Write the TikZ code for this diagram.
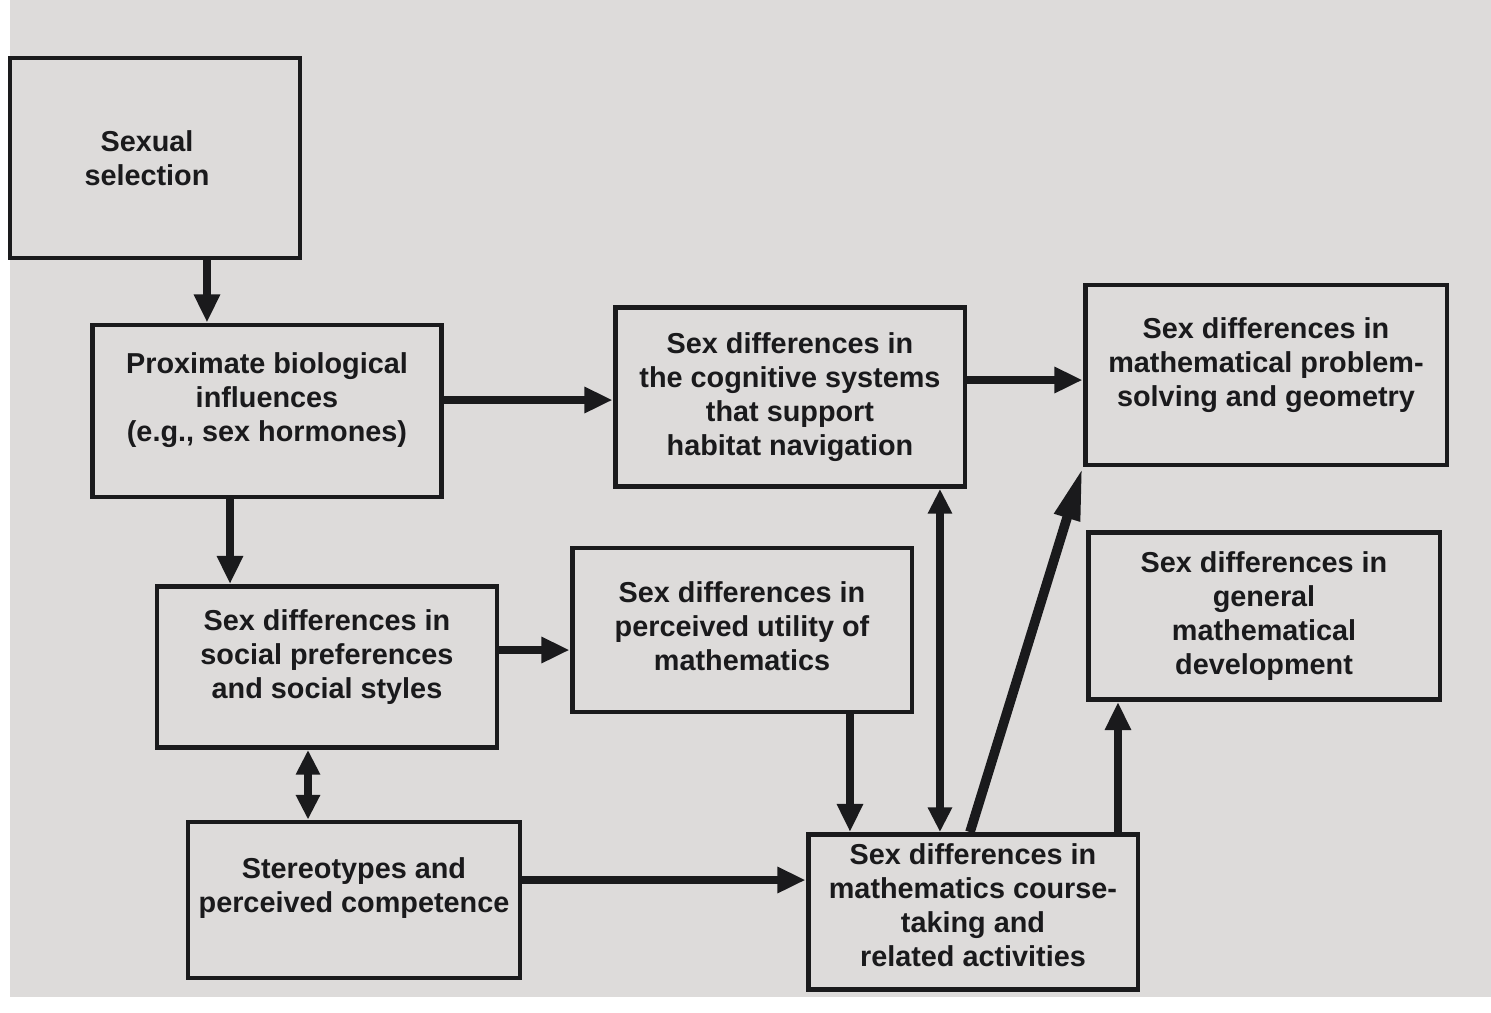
\documentclass[tikz,border=0pt]{standalone}
\usepackage{fontspec}
\setmainfont{Liberation Sans}
\usepackage{tikz}
\usetikzlibrary{arrows.meta,calc}

\definecolor{paper}{HTML}{DDDBDA}
\definecolor{ink}{HTML}{1A1A1C}

\begin{document}
\begin{tikzpicture}[x=0.02cm,y=-0.02cm,
        box/.style={draw=ink,line width=2.8pt,inner sep=0pt},
        txt/.style={align=center,inner sep=0pt,text=ink,
            font=\fontsize{16.4}{19.3}\selectfont\bfseries},
        flow/.style={draw=ink,line width=4.2pt,-{Triangle[length=16pt,width=14pt]}},
        twoway/.style={draw=ink,line width=4.2pt,{Triangle[length=14pt,width=13pt]}-{Triangle[length=14pt,width=13pt]}}]

        % paper
        \fill[white] (0,0) rectangle (1491,1012);
        \fill[paper] (10,0) rectangle (1491,997);
        \useasboundingbox (0,0) rectangle (1491,1012);

        % boxes
        \node[box, minimum width=5.8cm, minimum height=4.0cm] at (155,158) (ss) {};
        \node[box, minimum width=6.98cm, minimum height=3.44cm] at (267,411) (prox) {};
        \node[box, minimum width=7.0cm, minimum height=3.58cm] at (790,397) (cog) {};
        \node[box, minimum width=7.24cm, minimum height=3.6cm] at (1266,375) (prob) {};
        \node[box, minimum width=6.8cm, minimum height=3.22cm] at (327,667) (soc) {};
        \node[box, minimum width=6.8cm, minimum height=3.28cm] at (742,630) (util) {};
        \node[box, minimum width=7.04cm, minimum height=3.34cm] at (1264,616) (gen) {};
        \node[box, minimum width=6.64cm, minimum height=3.12cm] at (354,900) (ster) {};
        \node[box, minimum width=6.6cm, minimum height=3.1cm] at (973,912) (course) {};

        % texts
        \node[txt] at ([xshift=-0.16cm]ss.center) (sst) {Sexual\\selection};
        \node[txt] at ([yshift=0.22cm]prox.center) (proxt) {Proximate biological\\influences\\(e.g., sex hormones)};
        \node[txt] at (cog.center) (cogt) {Sex differences in\\the cognitive systems\\that support\\habitat navigation};
        \node[txt] at ([yshift=0.2cm]prob.center) (probt) {Sex differences in\\mathematical problem-\\solving and geometry};
        \node[txt] at ([yshift=0.2cm]soc.center) (soct) {Sex differences in\\social preferences\\and social styles};
        \node[txt] at ([yshift=0.08cm]util.center) (utilt) {Sex differences in\\perceived utility of\\mathematics};
        \node[txt] at (gen.center) (gent) {Sex differences in\\general\\mathematical\\development};
        \node[txt] at ([yshift=0.24cm]ster.center) (stert) {Stereotypes and\\perceived competence};
        \node[txt] at ([yshift=0.14cm]course.center) (courset) {Sex differences in\\mathematics course-\\taking and\\related activities};

        % connectors
        \draw[flow] ([xshift=1.04cm]ss.south) -- ([xshift=1.04cm]ss.south |- prox.north);
        \draw[flow] ([yshift=0.22cm]prox.east) -- ([yshift=0.22cm]prox.east -| cog.west);
        \draw[flow] ([yshift=0.34cm]cog.east) -- ([yshift=0.34cm]cog.east -| prob.west);
        \draw[flow] ([xshift=-0.74cm]prox.south) -- ([xshift=-0.74cm]prox.south |- soc.north);
        \draw[flow] ([yshift=0.34cm]soc.east) -- ([yshift=0.34cm]soc.east -| util.west);
        \draw[twoway] ([xshift=-0.38cm]soc.south) -- ([xshift=-0.38cm]soc.south |- ster.north);
        \draw[flow] ([xshift=2.16cm]util.south) -- ([xshift=2.16cm]util.south |- course.north);
        \draw[twoway] ([xshift=3.0cm]cog.south) -- ([xshift=3.0cm]cog.south |- course.north);
        \draw[flow,line width=5pt] ([yshift=0.4cm]ster.east) -- ([yshift=0.4cm]ster.east -| course.west);
        \draw[flow] ([xshift=2.9cm]course.north) -- ([xshift=2.9cm]course.north |- gen.south);
        \draw[draw=ink,line width=5.5pt,-{Triangle[length=30pt,width=14pt]}] ([xshift=-0.06cm]course.north) -- (prob.south west);

    \end{tikzpicture}
\end{document}
